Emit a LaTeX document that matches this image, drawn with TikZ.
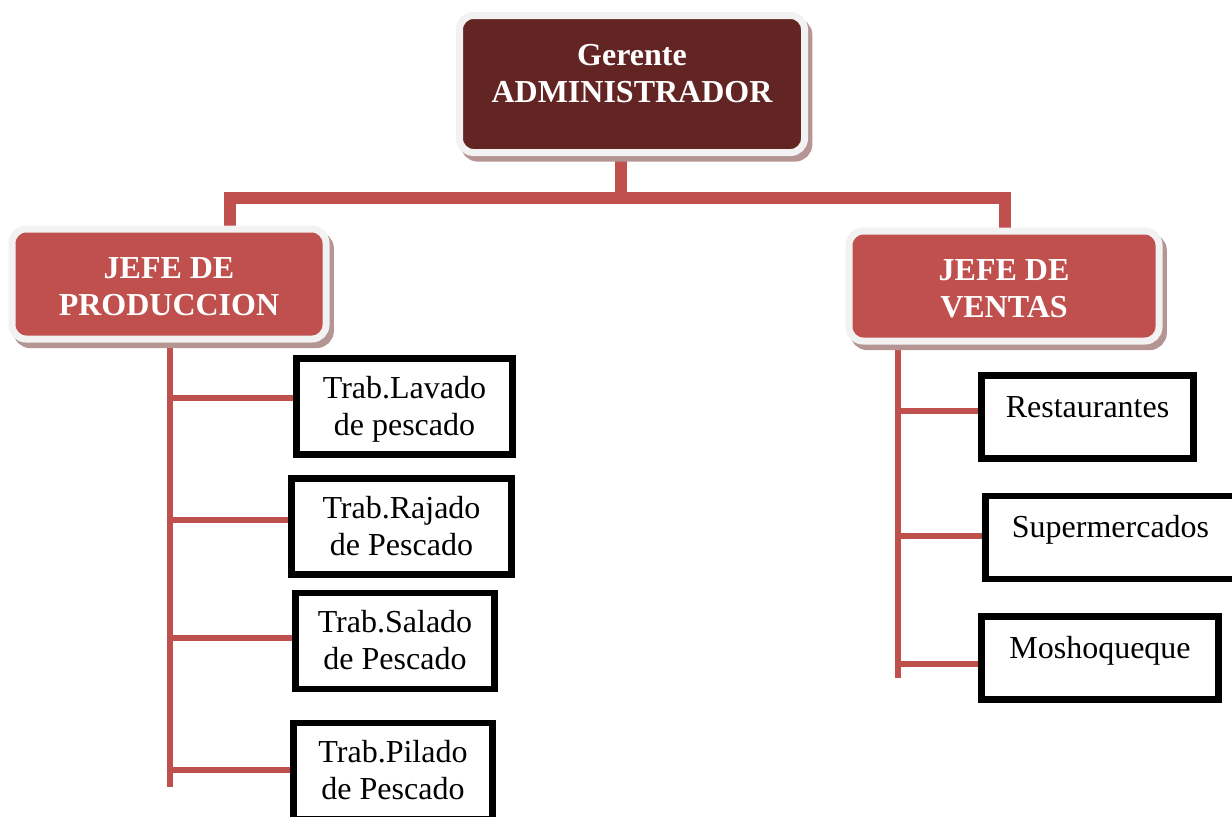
\documentclass[tikz,border=0pt]{standalone}
\usepackage{fontspec}
\setmainfont{Liberation Serif}
\usetikzlibrary{positioning, calc, backgrounds, shadows}
\definecolor{BossRed}{HTML}{632523}
\definecolor{AccRed}{HTML}{C0504D}
\definecolor{RingGray}{HTML}{F2F2F2}
\definecolor{ShadePink}{HTML}{B59494}
\tikzset{
  boss/.style={draw=RingGray, line width=3.5pt, rounded corners=7pt, fill=BossRed, text=white, align=center, inner sep=2pt, font=\bfseries\fontsize{16}{18.5}\selectfont, text height=29.5pt, text depth=11.5pt, drop shadow={shadow xshift=2.2pt, shadow yshift=-2.8pt, fill=ShadePink, draw=ShadePink, line width=3.5pt, opacity=1}},
  jefe/.style={boss, fill=AccRed, minimum height=55pt, text height=33pt, text depth=2pt},
  worker/.style={draw=black, line width=3.3pt, fill=white, align=center, inner sep=2pt, font=\fontsize{16}{18.5}\selectfont, text height=31pt, text depth=2.5pt, minimum height=48pt},
  client/.style={worker, text height=11pt, text depth=11pt, minimum height=41.5pt},
  bar/.style={draw=AccRed, line width=6.2pt},
  twig/.style={draw=AccRed, line width=3pt}
}
\begin{document}
\begin{tikzpicture}[x=0.5pt, y=-0.5pt]
\clip (0,0) rectangle (1232,816);
% gerente y jefes
\node[boss, minimum width=172.5pt, minimum height=68.5pt] (ger) at (632,84) {Gerente\\ADMINISTRADOR};
\node[jefe, minimum width=157pt] (jprod) at (169,284) {JEFE DE\\PRODUCCION};
\node[jefe, minimum width=155pt] (jvent) at (1004,286) {JEFE DE\\VENTAS};
% trabajadores
\node[worker, minimum width=108pt] (lav) at (404.5,406.5) {Trab.Lavado\\de pescado};
\node[worker, minimum width=110pt] (raj) at (401.5,526.5) {Trab.Rajado\\de Pescado};
\node[worker, minimum width=99.5pt] (sal) at (395,641) {Trab.Salado\\de Pescado};
\node[worker, minimum width=99.5pt] (pil) at (393,771) {Trab.Pilado\\de Pescado};
% clientes
\node[client, minimum width=106pt] (rest) at (1087.5,417) {Restaurantes};
\node[client, minimum width=125pt] (super) at (1110.5,537.5) {Supermercados};
\node[client, minimum width=118.5pt] (mosh) at (1100,658) {Moshoqueque};
% conectores
\coordinate (hub) at (621,198);
\coordinate (lt) at (230,198);
\coordinate (rt) at (1005,198);
\coordinate (ltk) at (170,787);
\coordinate (rtk) at (898,678);
\begin{scope}[on background layer]
\draw[bar] (ger.south -| hub) -- (hub);
\draw[bar] (lt |- jprod.north) -- (lt) -- (rt) -- (rt |- jvent.north);
\draw[twig] (ltk |- jprod.south) -- (ltk);
\draw[twig] (rtk |- jvent.south) -- (rtk);
\foreach \b/\up in {lav/4.25pt, raj/3.25pt, sal/1.5pt, pil/0.5pt}
  \draw[twig] ([yshift=\up]\b.west) -| (ltk);
\foreach \b/\up in {rest/3pt, super/0.75pt, mosh/-3pt}
  \draw[twig] ([yshift=\up]\b.west) -| (rtk);
\end{scope}
\end{tikzpicture}
\end{document}
